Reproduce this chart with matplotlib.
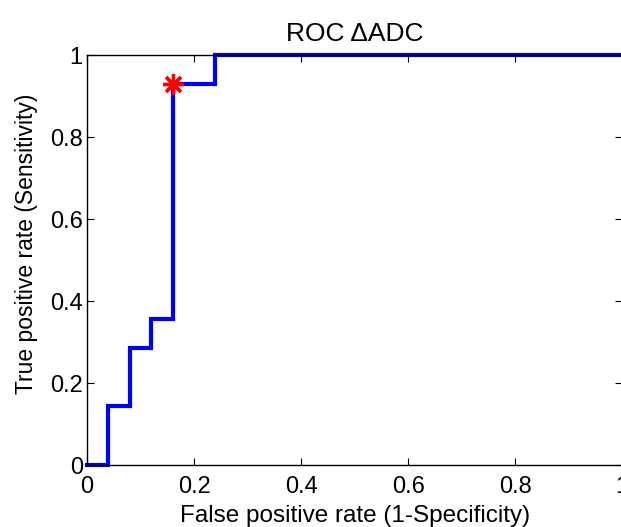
import matplotlib
matplotlib.use("Agg")
import matplotlib.pyplot as plt

plt.rcParams['font.family'] = ['Liberation Sans', 'DejaVu Sans']

# ROC step points
fpr = [0, 0.04, 0.04, 0.08, 0.08, 0.12, 0.12, 0.16, 0.16, 0.24, 0.24, 1.0]
tpr = [0, 0, 2/14, 2/14, 4/14, 4/14, 5/14, 5/14, 13/14, 13/14, 1.0, 1.0]

# optimal operating point
opt_fpr = [0.16]
opt_tpr = [13/14]

ticks = [0, 0.2, 0.4, 0.6, 0.8, 1]
tick_labels = ['0', '0.2', '0.4', '0.6', '0.8', '1']

fig = plt.figure(figsize=(6.21, 5.27), dpi=100)
ax = fig.add_axes([0.140, 0.1176, 0.862, 0.778])

ax.plot(fpr, tpr, color='blue', lw=3, solid_joinstyle='miter', clip_on=False, zorder=2)
ax.plot(opt_fpr, opt_tpr, linestyle='none', marker=(8, 2, 0), markersize=15,
        markeredgewidth=2.4, color='red', zorder=3)

ax.set_xlim(0, 1)
ax.set_ylim(0, 1)
ax.set_xticks(ticks)
ax.set_xticklabels(tick_labels)
ax.set_yticks(ticks)
ax.set_yticklabels(tick_labels)
ax.tick_params(direction='in', length=5, width=0.8, top=True, right=True,
               labelsize=17, pad=3)
ax.tick_params(axis='x', pad=8)
for s in ax.spines.values():
    s.set_linewidth(1.0)

ax.set_title("ROC \u0394ADC", fontsize=19, pad=10)
ax.set_xlabel("False positive rate (1-Specificity)", fontsize=17.5, labelpad=5)
ax.set_ylabel("True positive rate (Sensitivity)", fontsize=16.5)
ax.yaxis.set_label_coords(-0.092, 0.54)

fig.savefig("out.png", dpi=100)
